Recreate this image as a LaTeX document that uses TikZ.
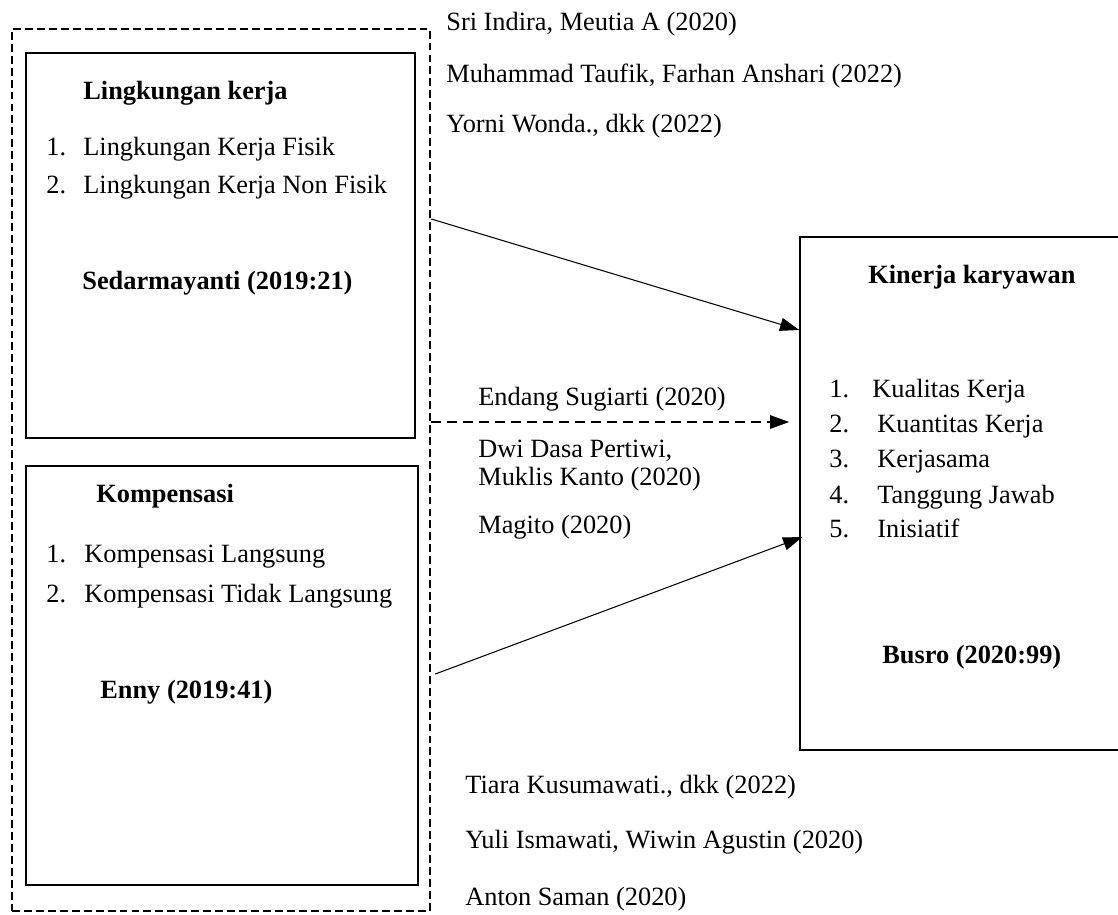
\documentclass[tikz,border=0pt]{standalone}
\usepackage{fontspec}
\setmainfont{Liberation Serif}
\usetikzlibrary{arrows.meta}

\begin{document}
\begin{tikzpicture}[
  x=0.02cm,y=-0.02cm,
  box/.style={draw,line width=0.8pt,minimum width=#1},
  group/.style={draw,line width=1.5pt,dash pattern=on 4.5pt off 2.3pt},
  txt/.style={inner sep=0pt,anchor=base west,font=\fontsize{15}{18}\selectfont},
  head/.style={txt,font=\fontsize{15}{18}\selectfont\bfseries},
  flow/.style={-{Triangle[length=11pt,width=7.5pt]},line width=0.6pt}
]
  \useasboundingbox (0,0) rectangle (1118,914);

  \node[group,minimum width=8.36cm,minimum height=17.64cm] (grp) at (221,470) {};
  \node[box=7.78cm,minimum height=7.7cm] (lk) at (220.5,245.5) {};
  \node[box=7.84cm,minimum height=8.38cm] (komp) at (222,675.5) {};
  \node[box=6.44cm,minimum height=10.26cm] (kin) at (961,493.5) {};

  % Lingkungan kerja
  \node[head] (lkt) at (83,99) {Lingkungan kerja};
  \node[txt] (lkn1) at (46,155) {1.};
  \node[txt] (lki1) at (83,155) {Lingkungan Kerja Fisik};
  \node[txt] (lkn2) at (46,193) {2.};
  \node[txt] (lki2) at (83,193) {Lingkungan Kerja Non Fisik};
  \node[head] (lks) at (82,289) {Sedarmayanti (2019:21)};

  % Kompensasi
  \node[head] (kpt) at (96,502) {Kompensasi};
  \node[txt] (kpn1) at (46,562) {1.};
  \node[txt] (kpi1) at (84,562) {Kompensasi Langsung};
  \node[txt] (kpn2) at (46,602) {2.};
  \node[txt] (kpi2) at (84,602) {Kompensasi Tidak Langsung};
  \node[head] (kps) at (100,698) {Enny (2019:41)};

  % Kinerja karyawan
  \node[head] (kit) at (868,283) {Kinerja karyawan};
  \node[txt] (kin1) at (829,397) {1.};
  \node[txt] (kii1) at (872,397) {Kualitas Kerja};
  \node[txt] (kin2) at (829,432) {2.};
  \node[txt] (kii2) at (877,432) {Kuantitas Kerja};
  \node[txt] (kin3) at (829,467) {3.};
  \node[txt] (kii3) at (877,467) {Kerjasama};
  \node[txt] (kin4) at (829,503) {4.};
  \node[txt] (kii4) at (877,503) {Tanggung Jawab};
  \node[txt] (kin5) at (829,537) {5.};
  \node[txt] (kii5) at (877,537) {Inisiatif};
  \node[head] (kis) at (882,663) {Busro (2020:99)};

  % sumber penelitian
  \node[txt] (r1) at (446,30) {Sri Indira, Meutia A (2020)};
  \node[txt] (r2) at (446,82) {Muhammad Taufik, Farhan Anshari (2022)};
  \node[txt] (r3) at (446,132) {Yorni Wonda., dkk (2022)};
  \node[txt] (r4) at (478,405) {Endang Sugiarti (2020)};
  \node[txt] (r5) at (478,457) {Dwi Dasa Pertiwi,};
  \node[txt] (r6) at (478,485) {Muklis Kanto (2020)};
  \node[txt] (r7) at (478,533) {Magito (2020)};
  \node[txt] (r8) at (465,793) {Tiara Kusumawati., dkk (2022)};
  \node[txt] (r9) at (465,848) {Yuli Ismawati, Wiwin Agustin (2020)};
  \node[txt] (r10) at (465,905) {Anton Saman (2020)};

  \draw[flow] (grp.east |- 0,219) -- (kin.west |- 0,330);
  \draw[flow,line width=1.5pt,dash pattern=on 5.7pt off 3.4pt] (grp.east |- 0,422) -- ([xshift=-10*0.02cm]kin.west |- 0,422);
  \draw[flow] ([xshift=4*0.02cm]grp.east |- 0,674) -- ([xshift=3*0.02cm]kin.west |- 0,537);
\end{tikzpicture}
\end{document}
